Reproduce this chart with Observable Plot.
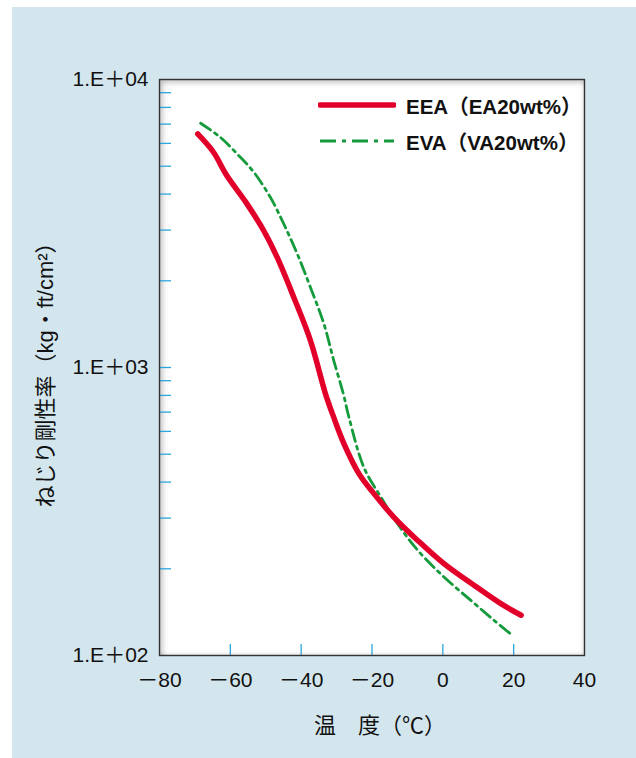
<!DOCTYPE html>
<html>
<head>
<meta charset="utf-8">
<script src="https://cdn.jsdelivr.net/npm/d3@7"></script>
<script src="https://cdn.jsdelivr.net/npm/@observablehq/plot@0.6"></script>
<style>
  body { margin: 0; background: #fff; }
  #wrap { position: relative; width: 636px; height: 758px; overflow: hidden; background: #fff;
          font-family: "Liberation Sans", "Noto Sans CJK JP", sans-serif; }
  #bg { position: absolute; left: 12px; top: 7px; right: 0; bottom: 0; background: #d3e6ee; }
  #panel { position: absolute; left: 159px; top: 79px; width: 425px; height: 576px; background: #fff;
           box-shadow: inset 5px 5px 6px -2px rgba(0,0,0,0.28), inset -3px -3px 5px -3px rgba(0,0,0,0.2); }
  #chart { position: absolute; left: 0; top: 0; }
  .leg { position: absolute; left: 318px; display: flex; align-items: center; font-weight: bold;
         font-size: 20.5px; color: #111; }
  .leg svg { margin-right: 10px; }
</style>
</head>
<body>
<div id="wrap">
  <div id="bg"></div>
  <div id="panel"></div>
  <div id="chart"></div>
  <div id="legend"></div>
</div>
<script>
// ---- data ----
const tempEEA = [-69.2, -64.8, -61.0, -55.3, -50.6, -46.8, -42.1, -37.4, -33.0, -30.8, -27.9, -23.7, -19.4, -13.8, -7.1, 0.4, 8.9, 16.5, 22.1];
const valEEA  = [6470, 5600, 4640, 3700, 2990, 2415, 1754, 1242, 800, 671, 543, 428, 364, 302, 251, 208, 175, 151, 138];
const tempEVA = [-68.4, -62.9, -58.1, -53.4, -48.7, -44.9, -41.1, -37.4, -33.6, -30.8, -28.1, -26.5, -22.3, -17.5, -12.8, -7.1, 0.4, 8.0, 14.6, 19.8];
const valEVA  = [7050, 6310, 5520, 4770, 3900, 3150, 2480, 1900, 1420, 1057, 811, 671, 450, 355, 287, 232, 187, 155, 132, 117];

const seriesNames = ["EEA（EA20wt%）", "EVA（VA20wt%）"];
const xTickValues = [-80, -60, -40, -20, 0, 20, 40];
const xTickLabels = ["－80", "－60", "－40", "－20", "0", "20", "40"];
const xInnerTicks = [-60, -40, -20, 0, 20];
const yTickValues = [100, 1000, 10000];
const yTickLabels = ["1.E＋02", "1.E＋03", "1.E＋04"];
const yMinorTicks = [200,300,400,500,600,700,800,900,1000,2000,3000,4000,5000,6000,7000,8000,9000];
const xTitle = "温　度（℃）";
const yTitle = "ねじり剛性率（kg・ft/cm²）";

// ---- build ----
const eea = tempEEA.map((t, i) => ({t, v: valEEA[i]}));
const eva = tempEVA.map((t, i) => ({t, v: valEVA[i]}));
const xLab = new Map(xTickValues.map((v, i) => [v, xTickLabels[i]]));
const yLab = new Map(yTickValues.map((v, i) => [v, yTickLabels[i]]));

const RED = "#e2002a", GREEN = "#159a3c", BLUE = "#2aa6de";
const W = 636, H = 758, ML = 159, MR = 52, MT = 79, MB = 103;
const FW = W - ML - MR, FH = H - MT - MB;

const chart = Plot.plot({
  width: W, height: H,
  marginLeft: ML, marginRight: MR, marginTop: MT, marginBottom: MB,
  style: {background: "transparent", fontFamily: '"Liberation Sans", "Noto Sans CJK JP", sans-serif', color: "#111", overflow: "visible"},
  x: {domain: [-80, 40]},
  y: {type: "log", domain: [100, 10000]},
  marks: [
    Plot.tickY(yMinorTicks, {y: d => d, stroke: BLUE, strokeWidth: 1.3, insetRight: FW - 12}),
    Plot.tickX(xInnerTicks, {x: d => d, stroke: BLUE, strokeWidth: 1.3, insetTop: FH - 11}),
    Plot.line(eva, {x: "t", y: "v", stroke: GREEN, strokeWidth: 2.8, strokeDasharray: "12,5,3,5", curve: "catmull-rom"}),
    Plot.line(eea, {x: "t", y: "v", stroke: RED, strokeWidth: 5.5, curve: "catmull-rom", strokeLinecap: "round", strokeLinejoin: "round"}),
    Plot.frame({stroke: "#333", strokeWidth: 1.4}),
    Plot.axisX(xTickValues, {tickSize: 0, tickPadding: 17, fontSize: 21, tickFormat: d => xLab.get(d), label: null}),
    Plot.axisY(yTickValues, {tickSize: 0, tickPadding: 11, fontSize: 21, tickFormat: d => yLab.get(d), label: null}),
    Plot.text([xTitle], {text: d => d, frameAnchor: "bottom", dy: 70, dx: 8, fontSize: 22, textAnchor: "middle", lineAnchor: "middle"}),
    Plot.text([yTitle], {text: d => d, frameAnchor: "left", dx: -114, dy: 2, rotate: -90, fontSize: 22, textAnchor: "middle", lineAnchor: "middle"})
  ]
});
document.getElementById("chart").append(chart);

// legend
const legend = document.getElementById("legend");
const legendStyles = [
  {color: RED, width: 5.5, dash: null, top: 105},
  {color: GREEN, width: 2.8, dash: "16,6,4,6", top: 141}
];
seriesNames.forEach((name, i) => {
  const s = legendStyles[i];
  const row = document.createElement("div");
  row.className = "leg";
  row.style.top = (s.top - 12) + "px";
  row.style.height = "24px";
  row.innerHTML = `<svg width="78" height="10"><line x1="2" y1="5" x2="76" y2="5" stroke="${s.color}" stroke-width="${s.width}" stroke-linecap="${s.dash ? "butt" : "round"}" ${s.dash ? `stroke-dasharray="${s.dash}"` : ""}/></svg><span>${name}</span>`;
  legend.append(row);
});
</script>
</body>
</html>
